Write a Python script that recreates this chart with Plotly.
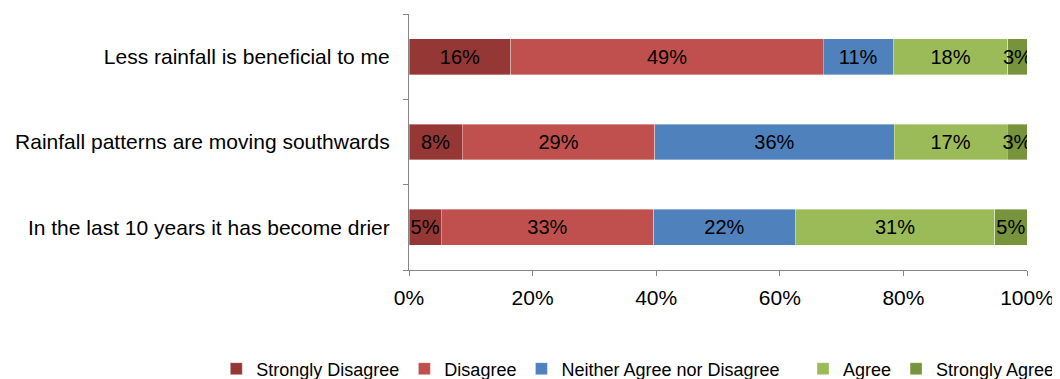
import plotly.graph_objects as go

# statements listed bottom to top (plotly draws first category at the bottom)
statements = [
    "In the last 10 years it has become drier",
    "Rainfall patterns are moving southwards",
    "Less rainfall is beneficial to me",
]
responses = ["Strongly Disagree", "Disagree", "Neither Agree nor Disagree", "Agree", "Strongly Agree"]
colors = ["#953735", "#C0504D", "#4F81BD", "#9BBB59", "#77933C"]

strongly_disagree = [5, 8, 16]
disagree = [33, 29, 49]
neither = [22, 36, 11]
agree = [31, 17, 18]
strongly_agree = [5, 3, 3]

series = [strongly_disagree, disagree, neither, agree, strongly_agree]
x_ticks = [0, 20, 40, 60, 80, 100]

# legend split in two so that neither one wraps inside the plot width
legend_ids = ["legend", "legend", "legend", "legend2", "legend2"]

fig = go.Figure()
for name, vals, col, leg in zip(responses, series, colors, legend_ids):
    fig.add_trace(go.Bar(
        y=statements,
        x=vals,
        name=name,
        orientation="h",
        legend=leg,
        marker=dict(color=col, line=dict(width=0.6, color="rgba(255,255,255,0.6)")),
        text=[f"{v}%" for v in vals],
        textposition="inside",
        insidetextanchor="middle",
        constraintext="none",
        textangle=0,
        textfont=dict(size=20, color="black"),
    ))

legend_style = dict(
    orientation="h",
    xref="container",
    yref="container",
    y=0.027,
    yanchor="middle",
    font=dict(size=18),
    traceorder="normal",
    itemwidth=30,
    bgcolor="rgba(0,0,0,0)",
)

# the page body has an 8px margin, so the figure is sized 8px smaller
fig.update_layout(
    barmode="stack",
    barnorm="percent",
    bargap=0.58,
    width=1052,
    height=371,
    margin=dict(l=401, r=33, t=6, b=109),
    paper_bgcolor="white",
    plot_bgcolor="white",
    font=dict(family="Liberation Sans, Arial, sans-serif", size=20, color="black"),
    xaxis=dict(
        range=[0, 100],
        tickvals=x_ticks,
        ticktext=[f"{t}%" for t in x_ticks],
        showgrid=False,
        zeroline=False,
        showline=True,
        linecolor="#868686",
        linewidth=1,
        ticks="outside",
        ticklen=5,
        tickcolor="#868686",
        tickfont=dict(size=21),
        ticklabelstandoff=4,
        automargin=False,
    ),
    yaxis=dict(
        showgrid=False,
        showline=True,
        linecolor="#868686",
        linewidth=1,
        ticks="outside",
        tickson="boundaries",
        ticklen=5,
        tickcolor="#868686",
        tickfont=dict(size=21),
        ticklabelstandoff=14,
        automargin=False,
    ),
    legend=dict(legend_style, x=0.198, xanchor="left"),
    legend2=dict(legend_style, x=1.0, xanchor="right"),
    showlegend=True,
)

fig.write_html("out.html")
